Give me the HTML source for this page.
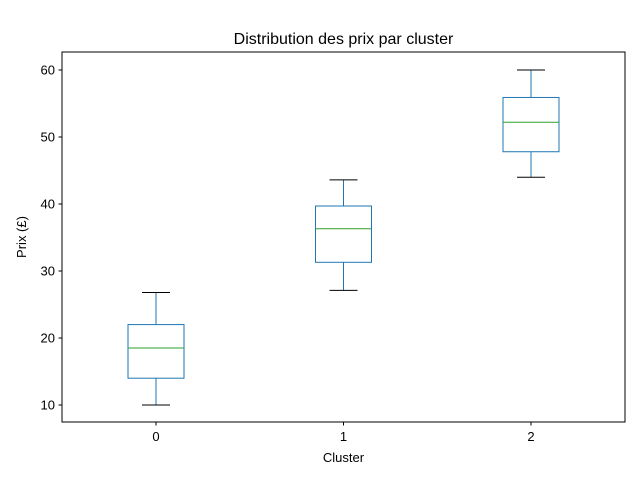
<!DOCTYPE html>
<html><head><meta charset="utf-8"><style>
body{margin:0;background:#fff}
svg{display:block;font-family:"Liberation Sans","DejaVu Sans",sans-serif}
</style></head><body>
<svg id="c" width="640" height="480">
<text x="343.5" y="44" text-anchor="middle" font-size="16">Distribution des prix par cluster</text>
<text x="343.5" y="462" text-anchor="middle" font-size="13">Cluster</text>
<text transform="translate(26,237) rotate(-90)" text-anchor="middle" font-size="13">Prix (£)</text>
<g id="marks"></g>
<rect x="62" y="52" width="563" height="370" fill="none" stroke="#000" stroke-width="1"/>
</svg>
<script>
const categories=["0","1","2"];
const whiskerLow=[10,27.1,44];
const q1=[14,31.3,47.8];
const medians=[18.5,36.3,52.2];
const q3=[22,39.7,55.9];
const whiskerHigh=[26.8,43.6,60];
const yTicks=[10,20,30,40,50,60];
const ns="http://www.w3.org/2000/svg";
const svg=document.getElementById('c');
const g=document.getElementById('marks');
const y=v=>405-(v-10)*6.7;
const x=i=>156+i*187.5;
function mk(t,a,p){const e=document.createElementNS(ns,t);for(const k in a)e.setAttribute(k,a[k]);(p||g).appendChild(e);return e;}
yTicks.forEach(v=>{
  const l=mk('line',{x1:58.5,x2:62,y1:y(v),y2:y(v),stroke:'#000'});
  
  
  const t=mk('text',{x:55,y:y(v)+4.5,'text-anchor':'end','font-size':13});
  t.textContent=v;
  
  
});
categories.forEach((c,i)=>{
  const cx=x(i);
  const l=mk('line',{x1:cx,x2:cx,y1:422,y2:425.5,stroke:'#000'});
  
  
  const t=mk('text',{x:cx,y:441,'text-anchor':'middle','font-size':13});
  t.textContent=c;
  
  
  const grp=mk('g',{});
  
  
  const blue='#1f77b4';
  mk('line',{x1:cx,x2:cx,y1:y(whiskerLow[i]),y2:y(q1[i]),stroke:blue},grp);
  mk('line',{x1:cx,x2:cx,y1:y(q3[i]),y2:y(whiskerHigh[i]),stroke:blue},grp);
  mk('line',{x1:cx-14,x2:cx+14,y1:y(whiskerLow[i]),y2:y(whiskerLow[i]),stroke:'#000'},grp);
  mk('line',{x1:cx-14,x2:cx+14,y1:y(whiskerHigh[i]),y2:y(whiskerHigh[i]),stroke:'#000'},grp);
  mk('rect',{x:cx-28,y:y(q3[i]),width:56,height:y(q1[i])-y(q3[i]),fill:'none',stroke:blue},grp);
  mk('line',{x1:cx-28,x2:cx+28,y1:y(medians[i]),y2:y(medians[i]),stroke:'#2ca02c'},grp);
});
</script>
</body></html>
